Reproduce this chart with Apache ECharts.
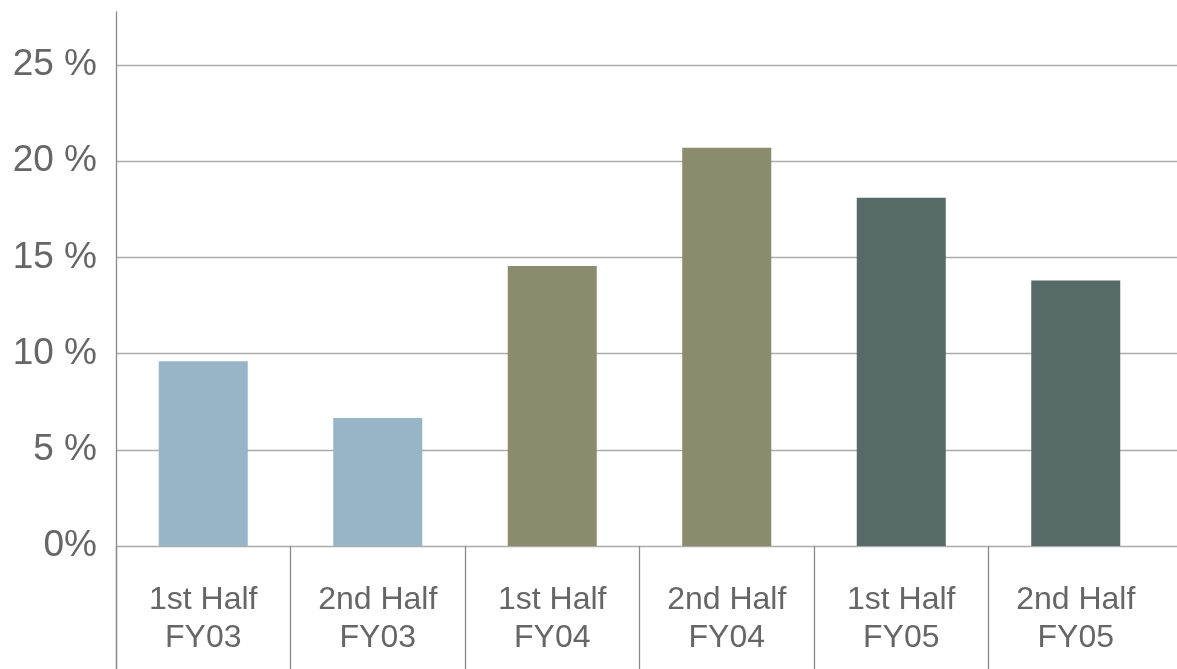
<!DOCTYPE html>
<html>
<head>
<meta charset="utf-8">
<title>Half-year growth</title>
<script src="https://cdn.jsdelivr.net/npm/echarts@6/dist/echarts.min.js"></script>
<style>
  html, body { margin: 0; padding: 0; background: #ffffff; }
  #chart { width: 1177px; height: 669px; }
</style>
</head>
<body>
<div id="chart"></div>
<script>
// Half-year periods shown along the bottom
const halves = ['1st Half', '2nd Half', '1st Half', '2nd Half', '1st Half', '2nd Half'];
const years = ['FY03', 'FY03', 'FY04', 'FY04', 'FY05', 'FY05'];

// Percentage value for each period
const values = [9.6, 6.65, 14.55, 20.7, 18.1, 13.8];

// Bar colour for each period (grouped by fiscal year)
const barColors = ['#98b5c7', '#98b5c7', '#8b8b6d', '#8b8b6d', '#566a67', '#566a67'];

// Value-axis tick labels for 0, 5, 10, 15, 20, 25
const yTickLabels = ['0%', '5 %', '10 %', '15 %', '20 %', '25 %'];

const categories = halves.map((h, i) => h + '\n' + years[i]);

const chart = echarts.init(document.getElementById('chart'), null, { renderer: 'canvas' });

const font = '"Liberation Sans", Arial, Helvetica, sans-serif';
const bandWidth = 174.5;              // width of one period column
const plotLeft = 116;
const plotBottom = 123;
const plotTop = 65;

chart.setOption({
  backgroundColor: '#ffffff',
  animation: false,
  grid: [
    // value scale and horizontal rules, running to the right edge
    { left: plotLeft, right: 0, top: plotTop, bottom: plotBottom },
    // bars and category labels
    { left: plotLeft, width: bandWidth * categories.length, top: plotTop, bottom: plotBottom },
    // full-height vertical axis rule
    { left: plotLeft, right: 0, top: 12, bottom: 0 },
    // dividers between period labels (no divider after the last period)
    { left: plotLeft, width: bandWidth * (categories.length - 1), top: plotTop, bottom: plotBottom }
  ],
  xAxis: [
    { gridIndex: 0, type: 'value', show: false, min: 0, max: 1 },
    {
      gridIndex: 1,
      type: 'category',
      data: categories,
      boundaryGap: true,
      axisLine: { show: false },
      axisTick: { show: false },
      axisLabel: {
        interval: 0,
        margin: 35,
        color: '#666666',
        fontFamily: font,
        fontSize: 32,
        lineHeight: 38,
        align: 'center'
      }
    },
    { gridIndex: 2, type: 'value', show: false, min: 0, max: 1 },
    {
      gridIndex: 3,
      type: 'value',
      min: 0,
      max: categories.length - 1,
      interval: 1,
      axisLine: { show: false },
      axisLabel: { show: false },
      splitLine: { show: false },
      axisTick: {
        show: true,
        inside: false,
        length: plotBottom,
        lineStyle: { color: '#8a8a8a', width: 1.3 }
      }
    }
  ],
  yAxis: [
    {
      gridIndex: 0,
      type: 'value',
      min: 0,
      max: 25,
      interval: 5,
      axisLine: { show: false },
      axisTick: { show: false },
      splitLine: { show: true, lineStyle: { color: '#ababab', width: 1.3 } },
      axisLabel: {
        margin: 19,
        color: '#666666',
        fontFamily: font,
        fontSize: 37,
        formatter: (v) => yTickLabels[Math.round(v / 5)]
      }
    },
    { gridIndex: 1, type: 'value', min: 0, max: 25, interval: 5, show: false },
    {
      gridIndex: 2,
      type: 'value',
      min: 0,
      max: 1,
      axisLine: { show: true, lineStyle: { color: '#8a8a8a', width: 1.3 } },
      axisTick: { show: false },
      axisLabel: { show: false },
      splitLine: { show: false }
    },
    { gridIndex: 3, type: 'value', min: 0, max: 1, show: false }
  ],
  series: [
    {
      type: 'bar',
      xAxisIndex: 1,
      yAxisIndex: 1,
      barWidth: 89,
      data: values.map((v, i) => ({ value: v, itemStyle: { color: barColors[i] } })),
      z: 3
    }
  ]
});
</script>
</body>
</html>
